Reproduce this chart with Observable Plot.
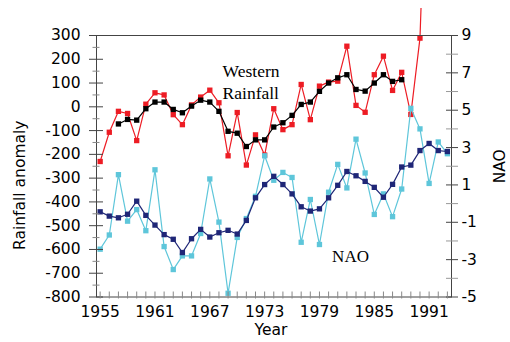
<!DOCTYPE html>
<html><head><meta charset="utf-8">
<script src="https://cdn.jsdelivr.net/npm/d3@7"></script>
<script src="https://cdn.jsdelivr.net/npm/@observablehq/plot@0.6"></script>
<style>
html,body{margin:0;padding:0;background:#fff;}
#chart svg{display:block;margin-top:8px;}
</style></head><body><div id="chart"></div>
<script>
// Years for annual series
const years = [1955,1956,1957,1958,1959,1960,1961,1962,1963,1964,1965,1966,1967,1968,1969,1970,1971,1972,1973,1974,1975,1976,1977,1978,1979,1980,1981,1982,1983,1984,1985,1986,1987,1988,1989,1990,1991,1992,1993];
// Western rainfall anomaly, annual (1955-1991; 1991 off-scale)
const rainfall = [-230,-107,-19,-28,-142,11,59,50,-33,-75,8,41,70,17,-206,-24,-245,-118,-203,-8,-96,-75,94,-54,87,104,108,255,6,-23,135,213,69,145,-32,289,1400];
// Western rainfall, smoothed (1957-1988)
const smoothStart = 1957;
const rainfallSmooth = [-72,-53,-56,-8,20,20,-11,-25,3,28,20,-19,-103,-111,-167,-139,-139,-85,-67,-36,10,20,65,100,122,135,73,66,100,135,107,114];
// NAO index, annual (1955-1993)
const nao = [-2.44,-1.68,1.55,-0.94,-0.32,-1.45,1.81,-2.30,-3.53,-2.80,-2.80,-1.60,1.32,-0.99,-4.80,-1.81,-0.80,0.39,2.56,1.25,1.67,1.40,-2.07,0.22,-2.19,0.61,2.10,0.84,3.45,1.64,-0.58,0.52,-0.70,0.78,5.10,4.00,1.08,3.30,2.67];
// NAO index, smoothed (1955-1993)
const naoSmooth = [-0.44,-0.67,-0.76,-0.57,0.13,-0.63,-1.15,-1.66,-1.91,-2.62,-1.88,-1.38,-1.79,-1.56,-1.43,-1.63,-0.90,0.31,1.02,1.46,1.02,0.52,-0.17,-0.40,-0.28,0.31,0.98,1.72,1.49,1.19,0.87,0.34,1.03,1.96,2.06,2.84,3.22,2.84,2.79];

// Tick values
const leftMajor = [-800,-700,-600,-500,-400,-300,-200,-100,0,100,200,300];
const leftMinor = [-750,-650,-550,-450,-350,-250,-150,-50,50,150,250];
const rightMajor = [-5,-3,-1,1,3,5,7,9];
const rightMinor = [-4,-2,0,2,4,6,8];
const yearLabels = [1955,1961,1967,1973,1979,1985,1991];

// NAO axis (-5..9) is drawn against the rainfall axis (-800..300)
const toR = n => -800 + (n + 5) * 1100 / 14;
const fromR = r => (r + 800) * 14 / 1100 - 5;

const rainRows = rainfall.map((v, i) => ({year: years[i], v}));
const rainSmoothRows = rainfallSmooth.map((v, i) => ({year: smoothStart + i, v}));
const naoRows = nao.map((v, i) => ({year: years[i], v: toR(v)}));
const naoSmoothRows = naoSmooth.map((v, i) => ({year: years[i], v: toR(v)}));

const red = "#ed1c24", black = "#000000", cyan = "#5ec6da", navy = "#1f2677";

const series = (rows, color) => [
  Plot.line(rows, {x: "year", y: "v", stroke: color, strokeWidth: 1.2}),
  Plot.dot(rows, {x: "year", y: "v", symbol: "square", r: 3, fill: color, stroke: "none"})
];

const chart = Plot.plot({
  width: 510, height: 334,
  marginTop: 27, marginBottom: 45.5, marginLeft: 96, marginRight: 59,
  style: {fontFamily: "DejaVu Sans", fontSize: "15.5px", color: "#000", background: "#fff", overflow: "hidden"},
  x: {domain: [1954.6, 1993.45], axis: null},
  y: {domain: [-800, 300], axis: null},
  marks: [
    ...series(rainRows, red),
    ...series(rainSmoothRows, black),
    ...series(naoRows, cyan),
    ...series(naoSmoothRows, navy),
    Plot.frame({stroke: "#444"}),
    // left axis
    Plot.axisY(leftMajor, {anchor: "left", tickSize: 14, dx: 7, tickFormat: () => "", stroke: "#444", label: null}),
    Plot.axisY(leftMinor, {anchor: "left", tickSize: 7, dx: 3.5, tickFormat: () => "", stroke: "#888", label: null}),
    Plot.axisY(leftMajor, {anchor: "left", tickSize: 0, tickPadding: 16, tickFormat: d => String(d), label: null, fontSize: 15.5}),
    // right axis
    Plot.axisY(rightMajor.map(toR), {anchor: "right", tickSize: 12, dx: -6, tickFormat: () => "", stroke: "#444", label: null}),
    Plot.axisY(rightMinor.map(toR), {anchor: "right", tickSize: 12, dx: -6, tickFormat: () => "", stroke: "#999", label: null}),
    Plot.axisY(rightMajor.map(toR), {anchor: "right", tickSize: 0, tickPadding: 10, tickFormat: d => String(Math.round(fromR(d))), label: null, fontSize: 15.5}),
    // bottom axis
    Plot.axisX(years, {anchor: "bottom", tickSize: 7, dy: -5, tickFormat: () => "", stroke: "#888", label: null}),
    Plot.axisX(yearLabels, {anchor: "bottom", tickSize: 0, tickPadding: 8.5, tickFormat: d => String(d), label: null, fontSize: 15.5}),
    // axis titles
    Plot.text(["Rainfall anomaly"], {frameAnchor: "left", dx: -76, dy: 19, rotate: -90, textAnchor: "middle", lineAnchor: "middle", fontSize: 15.5}),
    Plot.text(["NAO"], {frameAnchor: "right", dx: 49, dy: 0, rotate: -90, textAnchor: "middle", lineAnchor: "middle", fontSize: 15.5}),
    Plot.text(["Year"], {frameAnchor: "bottom", dx: -3, dy: 33.5, textAnchor: "middle", lineAnchor: "middle", fontSize: 15.5}),
    // series annotations
    Plot.text(["Western\nRainfall"], {x: 1968.4, y: 190, textAnchor: "start", lineAnchor: "top", lineHeight: 1.26, fontFamily: "Liberation Serif", fontSize: 17.5}),
    Plot.text(["NAO"], {x: 1982.4, y: -603, textAnchor: "middle", lineAnchor: "top", fontFamily: "Liberation Serif", fontSize: 17})
  ]
});
document.getElementById("chart").appendChild(chart);
</script></body></html>
